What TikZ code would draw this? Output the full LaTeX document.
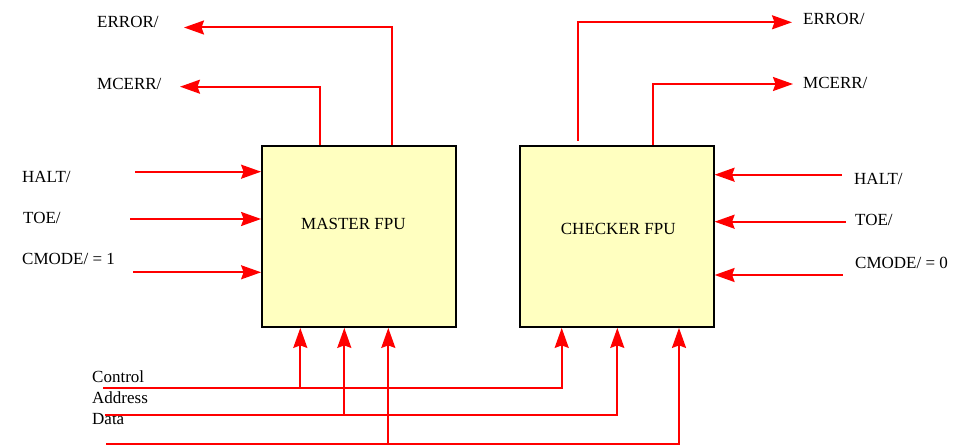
\documentclass[tikz,border=0pt]{standalone}
\usepackage{fontspec}
\setmainfont{Liberation Serif}
\usetikzlibrary{arrows.meta}
\definecolor{fpuyellow}{RGB}{255,255,192}
\begin{document}
\begin{tikzpicture}[x=1pt,y=-1pt,
  fpu/.style={draw=black,line width=1.8pt,fill=fpuyellow,minimum width=194pt,minimum height=181pt,inner sep=0pt},
  sig/.style={draw=red,line width=2pt,-{Stealth[length=20pt,width=14pt,inset=2.5pt]}},
  lbl/.style={anchor=base west,inner sep=0pt,font=\fontsize{17}{20}\selectfont}]
\useasboundingbox (0,0) rectangle (953,446);
% boxes
\node[fpu] (m) at (359,236.5) {};
\node[fpu] (c) at (616.7,236.5) {};
\node[lbl] (mt) at (301,229.3) {MASTER FPU};
\node[lbl] (ct) at (560.7,235) {CHECKER FPU};
% master outputs
\node[lbl] (merr) at (97,27.3) {ERROR/};
\node[lbl] (mmc) at (97,89.3) {MCERR/};
\coordinate (merrT) at (184,27.5);
\coordinate (mmcT) at (180,86.7);
\draw[sig] (m.north -| 392,0) |- (merrT);
\draw[sig] (m.north -| 319.5,0) |- (mmcT);
% checker outputs
\node[lbl] (cerr) at (803,25) {ERROR/};
\node[lbl] (cmc) at (803,88.3) {MCERR/};
\coordinate (cerrS) at (577.7,141);
\coordinate (cerrT) at (792,22.3);
\coordinate (cmcT) at (793,84);
\draw[sig] (cerrS) |- (cerrT);
\draw[sig] (c.north -| 653.3,0) |- (cmcT);
% master inputs
\node[lbl] (mhalt) at (22,182.3) {HALT/};
\node[lbl] (mtoe) at (23,223.3) {TOE/};
\node[lbl] (mcm) at (22,265) {CMODE/ = 1};
\coordinate (mh0) at (135,171.7);
\coordinate (mt0) at (130,219);
\coordinate (mc0) at (133,272.3);
\draw[sig] (mh0) -- (mh0 -| m.west);
\draw[sig] (mt0) -- (mt0 -| m.west);
\draw[sig] (mc0) -- (mc0 -| m.west);
% checker inputs
\node[lbl] (chalt) at (854,185) {HALT/};
\node[lbl] (ctoe) at (855,226) {TOE/};
\node[lbl] (ccm) at (855,268.3) {CMODE/ = 0};
\coordinate (ch0) at (841.7,174.7);
\coordinate (ct0) at (845.7,221.7);
\coordinate (cc0) at (842.7,275);
\draw[sig] (ch0) -- (ch0 -| c.east);
\draw[sig] (ct0) -- (ct0 -| c.east);
\draw[sig] (cc0) -- (cc0 -| c.east);
% bus
\node[lbl] (lc) at (92,382.3) {Control};
\node[lbl] (la) at (92,403.3) {Address};
\node[lbl] (ld) at (92,424) {Data};
\coordinate (bc) at (103,388.3);
\coordinate (ba) at (105,415);
\coordinate (bd) at (106,444.3);
\draw[sig] (bc) -| (c.south -| 561.7,0);
\draw[sig] (ba) -| (c.south -| 617.3,0);
\draw[sig] (bd) -| (c.south -| 679,0);
\draw[sig] (bc -| 300.3,0) -- (m.south -| 300.3,0);
\draw[sig] (ba -| 344.3,0) -- (m.south -| 344.3,0);
\draw[sig] (bd -| 388.3,0) -- (m.south -| 388.3,0);
\end{tikzpicture}
\end{document}
